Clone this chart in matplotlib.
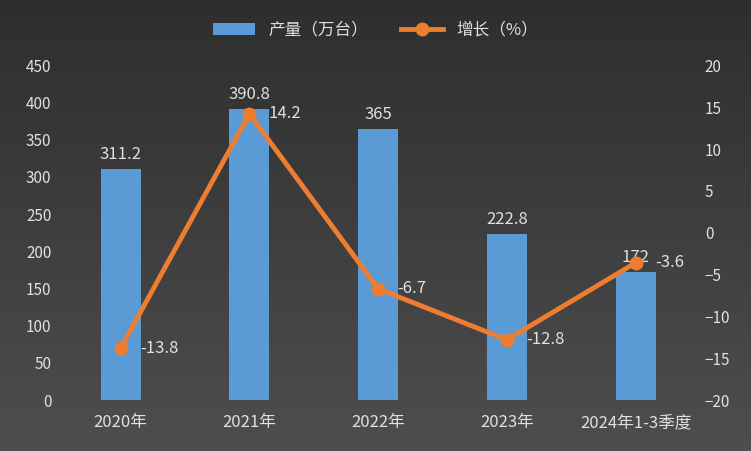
import matplotlib.pyplot as plt
import numpy as np

plt.rcParams['font.family'] = ['Noto Sans CJK SC', 'DejaVu Sans']

categories = ["2020年", "2021年", "2022年", "2023年", "2024年1-3季度"]
output = [311.2, 390.8, 365, 222.8, 172]
growth = [-13.8, 14.2, -6.7, -12.8, -3.6]
output_labels = ["311.2", "390.8", "365", "222.8", "172"]
growth_labels = ["-13.8", "14.2", "-6.7", "-12.8", "-3.6"]

txt = "#e0e0e0"
fig = plt.figure(figsize=(7.51, 4.51), dpi=100)
# dark gradient background
bg = fig.add_axes([0, 0, 1, 1], zorder=-10)
grad = np.linspace(0, 1, 256).reshape(-1, 1)
bg.imshow(grad, aspect="auto", cmap=plt.matplotlib.colors.LinearSegmentedColormap.from_list("g", ["#2e2e2e", "#4e4e4e"]),
          extent=[0, 1, 0, 1])
bg.axis("off")

ax = fig.add_axes([0.075, 0.113, 0.857, 0.742])
ax.patch.set_alpha(0)
x = np.arange(len(categories))
bars = ax.bar(x, output, width=0.31, color="#5b9bd5", zorder=2, label="产量（万台）")
ax.set_ylim(0, 450)
ax.set_yticks(range(0, 451, 50))
ax.set_xlim(-0.5, 4.5)
ax.set_xticks(x)
ax.set_xticklabels(categories)
for s in ax.spines.values():
    s.set_visible(False)
ax.tick_params(colors=txt, labelsize=11, length=0)
ax.tick_params(axis="x", pad=10, labelsize=12)
for xi, v, l in zip(x, output, output_labels):
    ax.text(xi, v + 8, l, ha="center", va="bottom", color=txt, fontsize=12)

ax2 = ax.twinx()
ax2.plot(x, growth, color="#ed7d31", lw=3.5, marker="o", ms=9, zorder=3, label="增长（%）")
ax2.set_ylim(-20, 20)
ax2.set_yticks(range(-20, 21, 5))
for s in ax2.spines.values():
    s.set_visible(False)
ax2.tick_params(colors=txt, labelsize=11, length=0)
for xi, v, l in zip(x, growth, growth_labels):
    ax2.text(xi + 0.15, v, l, ha="left", va="center", color=txt, fontsize=12)

h1, l1 = ax.get_legend_handles_labels()
h2, l2 = ax2.get_legend_handles_labels()
fig.legend(h1 + h2, l1 + l2, loc="upper center", bbox_to_anchor=(0.5, 0.985), ncol=2,
           frameon=False, labelcolor=txt, fontsize=12, handlelength=2.5)

fig.savefig("out.png", dpi=100)
